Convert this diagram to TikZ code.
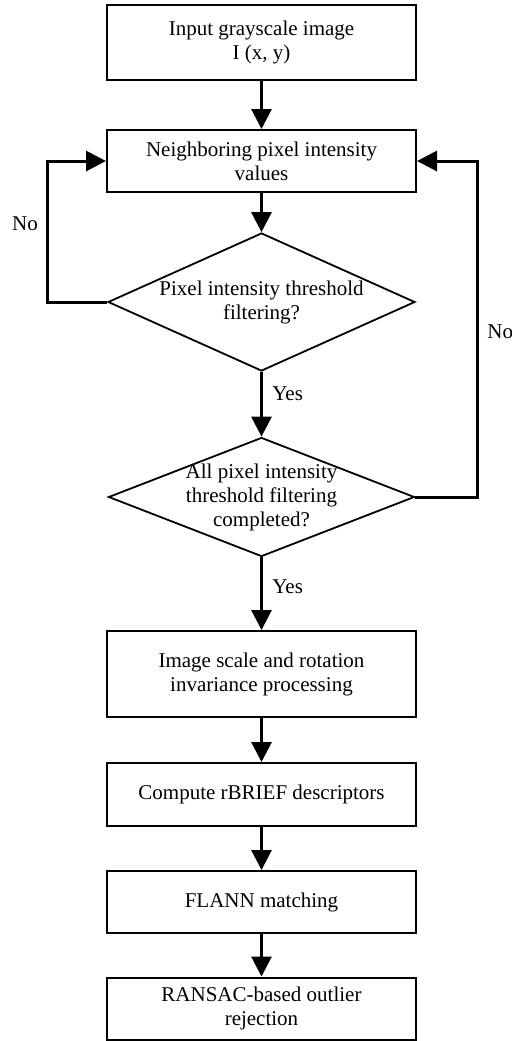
\documentclass[tikz,border=0pt]{standalone}
\usepackage{fontspec}
\setmainfont{Liberation Serif}
\usetikzlibrary{shapes.geometric, arrows.meta}
\tikzset{
    box/.style={draw, rectangle, line width=1pt, minimum width=154.5pt, align=center, font=\fontsize{10.5}{12}\selectfont},
    cond/.style={draw, diamond, line width=0.9pt, inner sep=0pt},
    condtxt/.style={align=center, font=\fontsize{10.5}{12}\selectfont},
    lbl/.style={font=\fontsize{10.5}{12}\selectfont, inner sep=0pt},
    flow/.style={line width=1.5pt, -{Triangle[length=10pt,width=10pt]}}
}

\begin{document}
\begin{tikzpicture}[x=0.5pt, y=-0.5pt]
    \useasboundingbox (0,0) rectangle (512,1041);

    \node[box, minimum height=37.5pt] (input) at (261.5,42.5) {Input grayscale image\\I (x, y)};
    \node[box, minimum height=31pt] (nbr) at (261.5,161) {Neighboring pixel intensity\\values};
    \node[cond, minimum width=153.5pt, minimum height=69pt,
          label={[condtxt]center:Pixel intensity threshold\\filtering?}] (thr) at (261.5,302) {};
    \node[cond, minimum width=153pt, minimum height=59.5pt,
          label={[condtxt]center:All pixel intensity\\threshold filtering\\completed?}] (done) at (261.5,497) {};
    \node[box, minimum height=43pt] (inv) at (261.5,674) {Image scale and rotation\\invariance processing};
    \node[box, minimum height=31.5pt] (brief) at (261.5,794.5) {Compute rBRIEF descriptors};
    \node[box, minimum height=31pt] (flann) at (261.5,902) {FLANN matching};
    \node[box, minimum height=31pt] (ransac) at (261.5,1008.5) {RANSAC-based outlier\\rejection};

    \draw[flow] (input) -- (nbr);
    \draw[flow] (nbr) -- (thr);
    \draw[flow] (thr) -- (done);
    \draw[flow] (done) -- (inv);
    \draw[flow] (inv) -- (brief);
    \draw[flow] (brief) -- (flann);
    \draw[flow] (flann) -- (ransac);

    % loops back
    \draw[flow] (thr.west) -- (47,302) |- (nbr.west);
    \draw[flow] (done.east) -- (477,497) |- (nbr.east);

    \node[lbl] (no1) at (25,224) {No};
    \node[lbl, anchor=west] (no2) at (487,332) {No};
    \node[lbl, anchor=west] (yes1) at (272,394) {Yes};
    \node[lbl, anchor=west] (yes2) at (272,587) {Yes};
\end{tikzpicture}
\end{document}
